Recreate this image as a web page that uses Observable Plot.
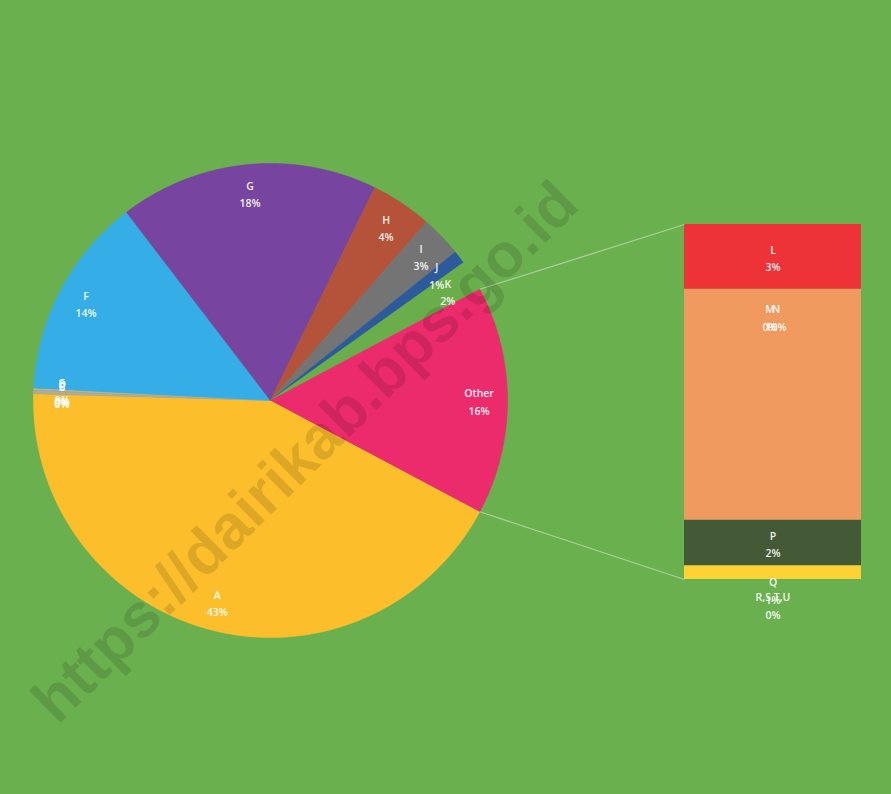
<!DOCTYPE html>
<html><head><meta charset="utf-8">
<script src="https://cdn.jsdelivr.net/npm/d3@7"></script>
<script src="https://cdn.jsdelivr.net/npm/@observablehq/plot@0.6"></script>
<style>html,body{margin:0;padding:0;background:#6bb04f;} #chart svg{display:block}</style>
</head><body><div id="chart"></div>
<script>
// ---- data ----
const pieNames  = ["A","B","C","D","E","F","G","H","I","J","K","Other"];
const pieValues = [42.8, 0.1, 0.1, 0.1, 0.1, 13.8, 17.7, 4.2, 2.8, 0.9, 2.1, 15.6];
const pieLabels = ["43%","0%","0%","0%","0%","14%","18%","4%","3%","1%","2%","16%"];
const pieColors = ["#fcbf2b","#a9a9a9","#c7ad7a","#9aa7b8","#d4b870","#35aee8","#7745a0","#b4533a","#747474","#2d5a9c","#69ae4a","#ec2b6d"];
const barNames  = ["L","M","N","P","Q","R,S,T,U"];
const barValues = [2.85, 0.05, 10.1, 2.0, 0.6, 0.0];
const barLabels = ["3%","0%","10%","2%","1%","0%"];
const barColors = ["#ee3338","#f09a60","#f09a60","#445a36","#fdd235","#fdd235"];
const watermark = "https://dairikab.bps.go.id";

// ---- layout ----
const W = 891, H = 794;
const cx = 270, cy = 400, R = 237;
const barX1 = 684, barX2 = 861, barTop = 224, barBottom = 579;

// pie geometry from values
const total = d3.sum(pieValues);
const otherIdx = pieNames.indexOf("Other");
const otherSpan = pieValues[otherIdx] / total * 2 * Math.PI;
let acc = otherSpan / 2;
const slices = pieNames.map((name, i) => {
  const start = acc, end = acc + pieValues[i] / total * 2 * Math.PI;
  acc = end;
  return {name, start, end, color: pieColors[i], label: pieLabels[i]};
});
const piePts = [];
for (const s of slices) {
  piePts.push({name: s.name, color: s.color, x: cx, y: cy});
  const n = Math.max(2, Math.ceil((s.end - s.start) / (Math.PI / 720)));
  for (let k = 0; k <= n; k++) {
    const t = s.start + (s.end - s.start) * k / n;
    piePts.push({name: s.name, color: s.color, x: cx + R * Math.cos(t), y: cy + R * Math.sin(t)});
  }
}
const pieText = slices.map(s => {
  const m = (s.start + s.end) / 2, r = 0.88 * R;
  return {x: cx + r * Math.cos(m), y: cy + r * Math.sin(m), text: s.name + "\n" + s.label};
});

// bar geometry from values
const barTotal = d3.sum(barValues);
const k = (barBottom - barTop) / barTotal;
let cum = 0;
const bars = barNames.map((name, i) => {
  const y1 = barTop + cum * k; cum += barValues[i];
  const y2 = barTop + cum * k;
  return {name, y1, y2, color: barColors[i], label: barLabels[i]};
});
const labelPos = b => {
  if (b.name === "M" || b.name === "N") return bars.find(d => d.name === "M").y1 + 27;
  if (b.name === "Q") return barBottom + 10;
  if (b.name === "R,S,T,U") return barBottom + 25;
  return (b.y1 + b.y2) / 2;
};
const barText = bars.map(b => ({
  x: (barX1 + barX2) / 2 + (b.name === "M" ? -3 : b.name === "N" ? 3 : 0),
  y: labelPos(b), text: b.name + "\n" + b.label
}));

const oStart = slices[otherIdx].start, oEnd = slices[otherIdx].end;
const links = [
  {x1: cx + R * Math.cos(oStart), y1: cy + R * Math.sin(oStart), x2: barX1, y2: barTop},
  {x1: cx + R * Math.cos(oEnd), y1: cy + R * Math.sin(oEnd), x2: barX1, y2: barBottom}
];

const font = "'Open Sans', 'Liberation Sans', sans-serif";
const chart = Plot.plot({
  width: W, height: H, margin: 0,
  style: {background: "#6bb04f", fontFamily: font},
  x: {domain: [0, W], range: [0, W], axis: null},
  y: {domain: [0, H], range: [0, H], axis: null},
  color: {type: "identity"},
  marks: [
    Plot.line(piePts, {x: "x", y: "y", z: "name", fill: "color", stroke: "color", strokeWidth: 0.6}),
    Plot.rect(bars, {x1: () => barX1, x2: () => barX2, y1: "y1", y2: "y2", fill: "color"}),
    Plot.link(links, {x1: "x1", y1: "y1", x2: "x2", y2: "y2", stroke: "#c4dbb8", strokeOpacity: 0.7, strokeWidth: 1.3}),
    Plot.text(pieText, {x: "x", y: "y", text: "text", fill: "white", fillOpacity: 0.93, fontSize: 10.5, fontWeight: 600, lineHeight: 1.65}),
    Plot.text(barText, {x: "x", y: "y", text: "text", fill: "white", fillOpacity: 0.93, fontSize: 10.5, fontWeight: 600, lineHeight: 1.65}),
    Plot.text([watermark], {x: () => 305, y: () => 452, text: d => d, rotate: -44.7, fontSize: 62, fontWeight: "bold", fontFamily: "'Liberation Sans', Arial, sans-serif", fill: "black", fillOpacity: 0.12})
  ]
});
document.getElementById("chart").appendChild(chart);
</script></body></html>
